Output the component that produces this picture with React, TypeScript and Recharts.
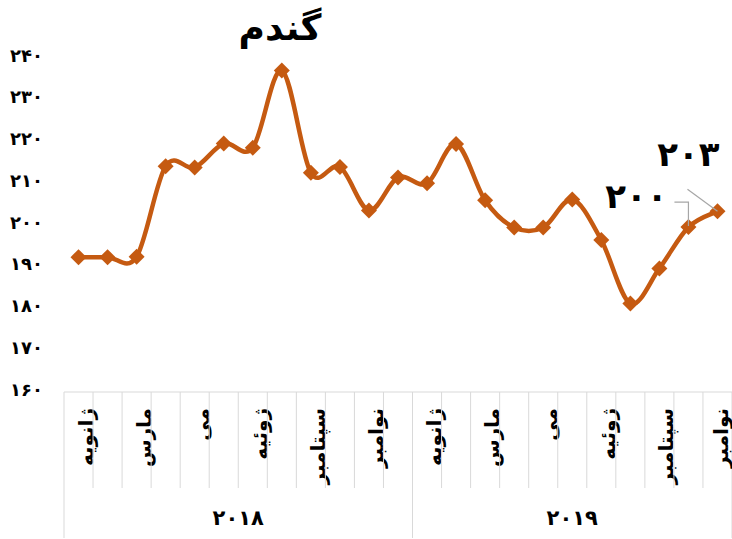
import React from "react";
import { LineChart, Line, XAxis, YAxis } from "recharts";

const months = [
  "ژانویه", "فوریه", "مارس", "آوریل", "می", "ژوئن", "ژوئیه", "اوت", "سپتامبر", "اکتبر", "نوامبر", "دسامبر",
  "ژانویه", "فوریه", "مارس", "آوریل", "می", "ژوئن", "ژوئیه", "اوت", "سپتامبر", "اکتبر", "نوامبر",
];
const years = ["۲۰۱۸", "۲۰۱۹"];
const monthsPerYear = [12, 11];
const prices = [
  192.3, 192.3, 192.4, 214.1, 213.8, 219.5, 218.5, 237.0, 212.5, 213.9, 203.5, 211.4,
  210.0, 219.4, 205.9, 199.4, 199.4, 206.1, 196.4, 181.2, 189.6, 199.5, 203.3,
];
const yTicks = [160, 170, 180, 190, 200, 210, 220, 230, 240];
const labelled = [21, 22];

const data = months.map((m, i) => ({ idx: i, month: m, price: prices[i] }));

const W = 732;
const H = 539;
const LEFT = 64;
const BW = (W - LEFT) / months.length;
const FONT = "'DejaVu Sans', sans-serif";
const ORANGE = "#C55A11";
const GRID = "#D9D9D9";

const fa = (n: number) => String(n).replace(/\d/g, (d) => "۰۱۲۳۴۵۶۷۸۹"[+d]);

// Excel-like smoothed line (Catmull-Rom through every point)
const smooth = (context: any) => {
  let pts: number[][] = [];
  return {
    areaStart() {},
    areaEnd() {},
    lineStart() {
      pts = [];
    },
    point(x: number, y: number) {
      pts.push([+x, +y]);
    },
    lineEnd() {
      if (!pts.length) return;
      context.moveTo(pts[0][0], pts[0][1]);
      for (let i = 0; i < pts.length - 1; i++) {
        const p0 = pts[i - 1] || pts[i];
        const p1 = pts[i];
        const p2 = pts[i + 1];
        const p3 = pts[i + 2] || p2;
        context.bezierCurveTo(
          p1[0] + (p2[0] - p0[0]) / 6, p1[1] + (p2[1] - p0[1]) / 6,
          p2[0] - (p3[0] - p1[0]) / 6, p2[1] - (p3[1] - p1[1]) / 6,
          p2[0], p2[1]
        );
      }
    },
  };
};

const Diamond = (props: any) => {
  const { cx, cy } = props;
  if (cx == null || cy == null) return null;
  const r = 8;
  return <polygon points={`${cx},${cy - r} ${cx + r},${cy} ${cx},${cy + r} ${cx - r},${cy}`} fill={ORANGE} />;
};

const YTick = (props: any) => {
  const { y, payload } = props;
  return (
    <text x={43} y={y - 3} textAnchor="end" dominantBaseline="central" fontFamily={FONT} fontWeight="bold" fontSize={18} fill="#000">
      {fa(payload.value)}
    </text>
  );
};

const yearStarts = monthsPerYear.map((_, k) => monthsPerYear.slice(0, k).reduce((a, b) => a + b, 0));

const MonthTick = (props: any) => {
  const { x, y, payload } = props;
  const i = Number(payload.value);
  const left = x - BW / 2;
  const k = yearStarts.indexOf(i);
  const isLast = i === months.length - 1;
  const tx = isLast ? Math.min(x + 7, W - 11) : x + 7;
  return (
    <g>
      <line x1={left} y1={y} x2={left} y2={y + (k >= 0 ? 146 : 96)} stroke={GRID} strokeWidth={1} />
      {isLast && <line x1={x + BW / 2} y1={y} x2={x + BW / 2} y2={y + 146} stroke={GRID} strokeWidth={1} />}
      {i % 2 === 0 && (
        <text
          x={tx}
          y={y + 16}
          transform={`rotate(-90 ${tx} ${y + 16})`}
          textAnchor="end"
          dominantBaseline="central"
          fontFamily={FONT}
          fontWeight="bold"
          fontSize={20}
          fill="#000"
        >
          {months[i]}
        </text>
      )}
      {k >= 0 && (
        <text
          x={left + (monthsPerYear[k] * BW) / 2}
          y={y + 126}
          textAnchor="middle"
          dominantBaseline="central"
          fontFamily={FONT}
          fontWeight="bold"
          fontSize={21}
          fill="#000"
        >
          {years[k]}
        </text>
      )}
    </g>
  );
};

const ValueLabel = (props: any) => {
  const { x, y, index, value } = props;
  if (!labelled.includes(index)) return null;
  const txt = fa(Math.round(value));
  if (index === 21) {
    return (
      <g>
        <polyline points={`${x - 14},${y - 25} ${x},${y - 25} ${x},${y - 1}`} fill="none" stroke="#A6A6A6" strokeWidth={1.2} />
        <text x={x - 52} y={y - 31} textAnchor="middle" dominantBaseline="central" fontFamily={FONT} fontWeight="bold" fontSize={34} fill="#000">
          {txt}
        </text>
      </g>
    );
  }
  return (
    <g>
      <line x1={x - 30} y1={y - 22} x2={x} y2={y} stroke="#A6A6A6" strokeWidth={1.2} />
      <text x={x - 29} y={y - 57} textAnchor="middle" dominantBaseline="central" fontFamily={FONT} fontWeight="bold" fontSize={34} fill="#000">
        {txt}
      </text>
    </g>
  );
};

export default function WheatPriceChart() {
  return (
    <div style={{ position: "absolute", left: 0, top: 0, width: W, height: H, background: "#fff" }}>
      <div
        style={{
          position: "absolute",
          left: 220,
          width: 120,
          top: 7,
          textAlign: "center",
          fontFamily: FONT,
          fontWeight: "bold",
          fontSize: 36,
          color: "#000",
          direction: "rtl",
        }}
      >
        گندم
      </div>
      <LineChart width={W} height={H} data={data} margin={{ top: 58, right: 0, bottom: 0, left: 0 }}>
        <XAxis
          dataKey="idx"
          type="category"
          interval={0}
          height={147}
          padding={{ left: BW / 2, right: BW / 2 }}
          tickSize={0}
          tickMargin={0}
          tickLine={false}
          axisLine={{ stroke: GRID }}
          tick={<MonthTick />}
        />
        <YAxis
          domain={[160, 240]}
          ticks={yTicks}
          width={64}
          axisLine={false}
          tickLine={false}
          tick={<YTick />}
          interval={0}
        />
        <Line
          type={smooth as any}
          dataKey="price"
          stroke={ORANGE}
          strokeWidth={4.5}
          dot={<Diamond />}
          activeDot={false}
          isAnimationActive={false}
          label={<ValueLabel />}
        />
      </LineChart>
    </div>
  );
}
